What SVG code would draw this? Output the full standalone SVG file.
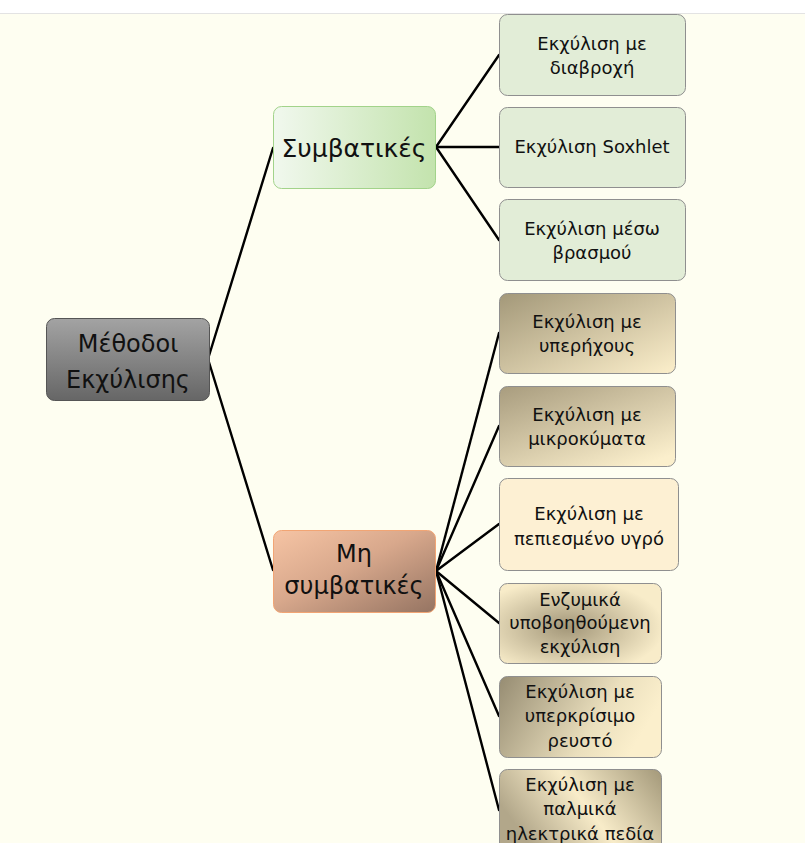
<svg xmlns="http://www.w3.org/2000/svg" width="805" height="843" viewBox="0 0 805 843">
<defs>
<style>
text{font-family:"DejaVu Sans","Noto Sans",sans-serif;fill:#111;text-anchor:middle}
.s{font-size:18px}
.m{font-size:24px}
.l{font-size:25px}
.box{stroke:#8f8f8f;stroke-width:1}
.c{stroke:#000;stroke-width:2.4;fill:none;stroke-linecap:round}
</style>
<linearGradient id="gRoot" x1="0" y1="0" x2="0" y2="1"><stop offset="0" stop-color="#a3a3a3"/><stop offset="1" stop-color="#666"/></linearGradient>
<linearGradient id="gSym" x1="0" y1="0" x2="1" y2="0"><stop offset="0" stop-color="#f1f8ee"/><stop offset="1" stop-color="#c3e3ad"/></linearGradient>
<linearGradient id="gMh" x1="0" y1="0" x2="1" y2="1"><stop offset="0" stop-color="#f6c4a4"/><stop offset="0.45" stop-color="#d8a88c"/><stop offset="1" stop-color="#957462"/></linearGradient>
<linearGradient id="gDiag" x1="0" y1="0" x2="1" y2="1"><stop offset="0" stop-color="#a39879"/><stop offset="1" stop-color="#fcefcb"/></linearGradient>
<linearGradient id="gDiag2" x1="0" y1="0" x2="0.8" y2="1"><stop offset="0" stop-color="#a89c7e"/><stop offset="1" stop-color="#fbefcc"/></linearGradient>
<radialGradient id="gRad" cx="0.42" cy="0.55" r="0.6"><stop offset="0" stop-color="#a39779"/><stop offset="1" stop-color="#f8ecc9"/></radialGradient>
<linearGradient id="gHor" x1="0" y1="0" x2="1" y2="0.3"><stop offset="0" stop-color="#968c72"/><stop offset="0.7" stop-color="#eadfbd"/><stop offset="1" stop-color="#fbefcc"/></linearGradient>
<linearGradient id="gPal" x1="0" y1="0.4" x2="1" y2="0"><stop offset="0" stop-color="#b2a78a"/><stop offset="0.45" stop-color="#f8ecc9"/><stop offset="1" stop-color="#a39879"/></linearGradient>
</defs>
<rect x="0" y="0" width="805" height="843" fill="#fefef1"/>
<rect x="0" y="0" width="805" height="13" fill="#ffffff"/>
<line x1="0" y1="13.5" x2="805" y2="13.5" stroke="#e3e3e3" stroke-width="1"/>

<g id="connectors">
<path class="c" d="M208 359 L273 148"/>
<path class="c" d="M208 359 L273 570"/>
<path class="c" d="M436 147 L499 55"/>
<path class="c" d="M436 147 L499 147"/>
<path class="c" d="M436 147 L499 240"/>
<path class="c" d="M436 571 L499 333"/>
<path class="c" d="M436 571 L499 426"/>
<path class="c" d="M436 571 L499 524"/>
<path class="c" d="M436 571 L499 623"/>
<path class="c" d="M436 571 L499 716"/>
<path class="c" d="M436 571 L499 810"/>
</g>

<g id="root">
<rect x="46.5" y="318.5" width="163" height="82" rx="8" fill="url(#gRoot)" stroke="#555" stroke-width="1"/>
<text class="m" x="128" y="352">Μέθοδοι</text>
<text class="m" x="128" y="388">Εκχύλισης</text>
</g>

<g id="symvatikes">
<rect x="273.5" y="106.5" width="162" height="82" rx="8" fill="url(#gSym)" stroke="#a2d38a" stroke-width="1"/>
<text class="l" x="354" y="157">Συμβατικές</text>
</g>

<g id="mi-symvatikes">
<rect x="273.5" y="530.5" width="162" height="82" rx="8" fill="url(#gMh)" stroke="#f2a574" stroke-width="1"/>
<text class="m" x="354" y="562">Μη</text>
<text class="m" x="354" y="594">συμβατικές</text>
</g>

<g id="diavroxi">
<rect class="box" x="499.5" y="14.5" width="186" height="81" rx="8" fill="#e2edd7"/>
<text class="s" x="592" y="50">Εκχύλιση με</text>
<text class="s" x="592" y="74">διαβροχή</text>
</g>

<g id="soxhlet">
<rect class="box" x="499.5" y="107.5" width="186" height="80" rx="8" fill="#e2edd7"/>
<text class="s" x="592" y="153">Εκχύλιση Soxhlet</text>
</g>

<g id="vrasmos">
<rect class="box" x="499.5" y="199.5" width="186" height="81" rx="8" fill="#e2edd7"/>
<text class="s" x="592" y="235">Εκχύλιση μέσω</text>
<text class="s" x="592" y="259">βρασμού</text>
</g>

<g id="yperixoi">
<rect class="box" x="499.5" y="293.5" width="176" height="80" rx="8" fill="url(#gDiag)"/>
<text class="s" x="587" y="328">Εκχύλιση με</text>
<text class="s" x="587" y="352">υπερήχους</text>
</g>

<g id="mikrokymata">
<rect class="box" x="499.5" y="386.5" width="176" height="80" rx="8" fill="url(#gDiag2)"/>
<text class="s" x="587" y="421">Εκχύλιση με</text>
<text class="s" x="587" y="445">μικροκύματα</text>
</g>

<g id="piesmeno">
<rect class="box" x="499.5" y="478.5" width="179" height="92" rx="8" fill="#fdf0d3"/>
<text class="s" x="589" y="520">Εκχύλιση με</text>
<text class="s" x="589" y="545">πεπιεσμένο υγρό</text>
</g>

<g id="enzymika">
<rect class="box" x="499.5" y="583.5" width="162" height="80" rx="8" fill="url(#gRad)"/>
<text class="s" x="580" y="606">Ενζυμικά</text>
<text class="s" x="580" y="629">υποβοηθούμενη</text>
<text class="s" x="580" y="653">εκχύλιση</text>
</g>

<g id="yperkrisimo">
<rect class="box" x="499.5" y="676.5" width="162" height="81" rx="8" fill="url(#gHor)"/>
<text class="s" x="580" y="698">Εκχύλιση με</text>
<text class="s" x="580" y="722">υπερκρίσιμο</text>
<text class="s" x="580" y="747">ρευστό</text>
</g>

<g id="palmika">
<rect class="box" x="499.5" y="769.5" width="162" height="85" rx="8" fill="url(#gPal)"/>
<text class="s" x="580" y="791">Εκχύλιση με</text>
<text class="s" x="580" y="815">παλμικά</text>
<text class="s" x="580" y="840">ηλεκτρικά πεδία</text>
</g>
</svg>
